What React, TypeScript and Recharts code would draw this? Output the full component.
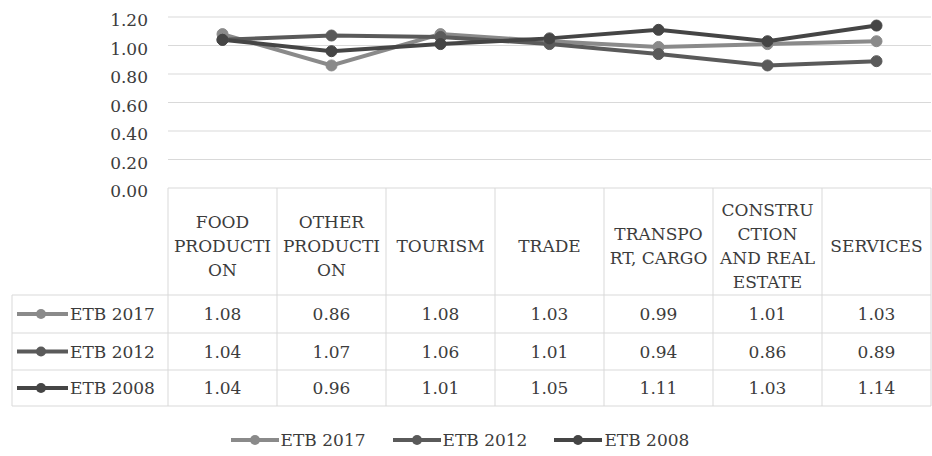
import React from "react";
import { LineChart, Line, XAxis, YAxis, CartesianGrid, Legend } from "recharts";

const categories = [
  "FOOD PRODUCTION",
  "OTHER PRODUCTION",
  "TOURISM",
  "TRADE",
  "TRANSPORT, CARGO",
  "CONSTRUCTION AND REAL ESTATE",
  "SERVICES",
];
const headerLines = [
  ["FOOD", "PRODUCTI", "ON"],
  ["OTHER", "PRODUCTI", "ON"],
  ["TOURISM"],
  ["TRADE"],
  ["TRANSPO", "RT, CARGO"],
  ["CONSTRU", "CTION", "AND REAL", "ESTATE"],
  ["SERVICES"],
];
const etb2017 = [1.08, 0.86, 1.08, 1.03, 0.99, 1.01, 1.03];
const etb2012 = [1.04, 1.07, 1.06, 1.01, 0.94, 0.86, 0.89];
const etb2008 = [1.04, 0.96, 1.01, 1.05, 1.11, 1.03, 1.14];
const yTicks = [0, 0.2, 0.4, 0.6, 0.8, 1.0, 1.2];

const series = [
  { key: "etb2017", name: "ETB 2017", color: "#8a8a8a", values: etb2017 },
  { key: "etb2012", name: "ETB 2012", color: "#5a5a5a", values: etb2012 },
  { key: "etb2008", name: "ETB 2008", color: "#454545", values: etb2008 },
];

const data = categories.map((c, i) => {
  const row: any = { category: c, idx: i };
  series.forEach((s) => (row[s.key] = s.values[i]));
  return row;
});

const CHART_W = 932;
const CHART_H = 456;
const PLOT_LEFT = 168;
const PLOT_RIGHT = 931;
const COL_W = (PLOT_RIGHT - PLOT_LEFT) / categories.length;
const TABLE_LEFT = 12;
const FONT = "'DejaVu Serif', serif";
const TEXT = "#3c3c3c";
const BORDER = "#d9d9d9";
const FS = 17;

// offsets relative to table top
const ROW_EDGES = [107, 145, 182, 218];
const HEADER_CENTER = 58;
const LINE_GAP = 24;

function TableTick(props: any) {
  const { x, y, payload } = props;
  const i = categories.indexOf(payload.value);
  const left = x - COL_W / 2;
  const right = x + COL_W / 2;
  const lines = headerLines[i] || [];
  const bottom = y + ROW_EDGES[ROW_EDGES.length - 1];
  const els: any[] = [];
  els.push(<line key="vl" x1={left} x2={left} y1={y} y2={bottom} stroke={BORDER} />);
  if (i === categories.length - 1) {
    els.push(<line key="vr" x1={right} x2={right} y1={y} y2={bottom} stroke={BORDER} />);
  }
  ROW_EDGES.forEach((e, k) => {
    els.push(<line key={"h" + k} x1={left} x2={right} y1={y + e} y2={y + e} stroke={BORDER} />);
  });
  lines.forEach((t, k) => {
    els.push(
      <text
        key={"t" + k}
        x={x}
        y={y + HEADER_CENTER - ((lines.length - 1) * LINE_GAP) / 2 + k * LINE_GAP}
        textAnchor="middle"
        dominantBaseline="central"
        fill={TEXT}
        fontFamily={FONT}
        fontSize={FS}
      >
        {t}
      </text>
    );
  });
  series.forEach((s, r) => {
    const cy = y + (ROW_EDGES[r] + ROW_EDGES[r + 1]) / 2;
    els.push(
      <text
        key={"v" + r}
        x={x}
        y={cy}
        textAnchor="middle"
        dominantBaseline="central"
        fill={TEXT}
        fontFamily={FONT}
        fontSize={FS}
      >
        {s.values[i].toFixed(2)}
      </text>
    );
  });
  if (i === 0) {
    ROW_EDGES.forEach((e, k) => {
      els.push(<line key={"lh" + k} x1={TABLE_LEFT} x2={left} y1={y + e} y2={y + e} stroke={BORDER} />);
    });
    els.push(
      <line key="lv" x1={TABLE_LEFT} x2={TABLE_LEFT} y1={y + ROW_EDGES[0]} y2={bottom} stroke={BORDER} />
    );
    series.forEach((s, r) => {
      const cy = y + (ROW_EDGES[r] + ROW_EDGES[r + 1]) / 2;
      els.push(
        <g key={"k" + r}>
          <line x1={17} x2={68} y1={cy} y2={cy} stroke={s.color} strokeWidth={4} />
          <circle cx={41} cy={cy} r={5} fill={s.color} />
          <text x={70} y={cy} dominantBaseline="central" fill={TEXT} fontFamily={FONT} fontSize={FS}>
            {s.name}
          </text>
        </g>
      );
    });
  }
  return <g>{els}</g>;
}

function YTick(props: any) {
  const { x, y, payload } = props;
  return (
    <text
      x={x}
      y={y + 3}
      textAnchor="end"
      dominantBaseline="central"
      fill={TEXT}
      fontFamily={FONT}
      fontSize={FS}
    >
      {Number(payload.value).toFixed(2)}
    </text>
  );
}

function LegendContent() {
  return (
    <div
      style={{
        height: 44,
        display: "flex",
        justifyContent: "center",
        alignItems: "center",
        paddingTop: 12,
        paddingRight: 12,
        boxSizing: "border-box",
        fontFamily: FONT,
        fontSize: FS,
        color: TEXT,
      }}
    >
      {series.map((s) => (
        <div key={s.key} style={{ display: "flex", alignItems: "center", margin: "0 13px" }}>
          <svg width={50} height={12} style={{ marginRight: 1 }}>
            <line x1={1} x2={49} y1={6} y2={6} stroke={s.color} strokeWidth={4} />
            <circle cx={25} cy={6} r={5} fill={s.color} />
          </svg>
          <span>{s.name}</span>
        </div>
      ))}
    </div>
  );
}

export default function App() {
  return (
    <div style={{ position: "absolute", left: 0, top: 0, background: "#fff" }}>
      <LineChart
        width={CHART_W}
        height={CHART_H}
        data={data}
        margin={{ top: 17, right: CHART_W - PLOT_RIGHT, left: 0, bottom: 0 }}
      >
        <CartesianGrid horizontal={true} vertical={false} stroke={BORDER} />
        <XAxis
          dataKey="category"
          height={224}
          tickSize={0}
          tickMargin={0}
          axisLine={false}
          tickLine={false}
          interval={0}
          padding={{ left: COL_W / 2, right: COL_W / 2 }}
          tick={<TableTick />}
        />
        <YAxis
          width={PLOT_LEFT}
          domain={[0, 1.2]}
          ticks={yTicks}
          axisLine={false}
          tickLine={false}
          tickSize={0}
          tickMargin={20}
          tick={<YTick />}
        />
        <Legend verticalAlign="bottom" height={44} content={<LegendContent />} />
        {series.map((s) => (
          <Line
            key={s.key}
            dataKey={s.key}
            name={s.name}
            stroke={s.color}
            strokeWidth={4}
            dot={{ r: 5.5, fill: s.color, stroke: s.color, strokeWidth: 1 }}
            isAnimationActive={false}
          />
        ))}
      </LineChart>
    </div>
  );
}
